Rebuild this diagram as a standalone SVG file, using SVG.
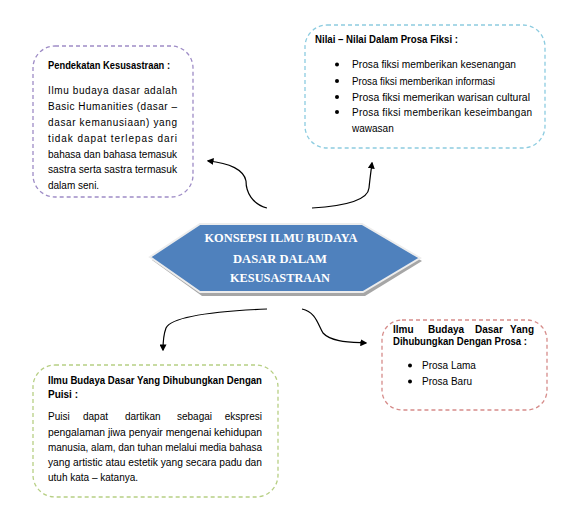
<svg xmlns="http://www.w3.org/2000/svg" width="572" height="525" viewBox="0 0 572 525">
<defs>
<style>
.box{fill:#fff;stroke-width:1.3;stroke-dasharray:4 3}
.t{font-family:"Liberation Sans",Arial,sans-serif;font-size:10px;fill:#000}
.b{font-weight:bold}
.h{font-family:"Liberation Serif","Times New Roman",serif;font-size:13px;font-weight:bold;fill:#fff;text-anchor:middle}
.c{fill:none;stroke:#000;stroke-width:1.2}
</style>
<marker id="ah" viewBox="0 0 10 10" refX="8" refY="5" markerWidth="7" markerHeight="7" orient="auto" markerUnits="userSpaceOnUse">
<path d="M0,0 L10,5 L0,10 z" fill="#000"/>
</marker>
</defs>
<rect width="572" height="525" fill="#fff"/>

<g id="connectors">
<path class="c" d="M267,208 C252,204 246,192 246,181 C244,170 230,163 208,161" marker-end="url(#ah)"/>
<path class="c" d="M312,208 C345,206 368,200 369,188 C370,178 371,171 372,163" marker-end="url(#ah)"/>
<path class="c" d="M267,309 C220,311 172,316 166,328 C163,336 163,344 163,350" marker-end="url(#ah)"/>
<path class="c" d="M302,309 C316,312 318,325 323,333 C331,342 350,342 366,343" marker-end="url(#ah)"/>
</g>

<g id="center">
<polygon points="152,260 202,227 364,227 422,261 365,296 202,296" fill="#A6A6A6"/>
<polygon points="150,257 200,224 362,224 420,258 363,292 200,292" fill="#4F81BD" stroke="#EDEDED" stroke-width="2"/>
<text class="h" x="281" y="242" textLength="153" lengthAdjust="spacingAndGlyphs">KONSEPSI ILMU BUDAYA</text>
<text class="h" x="280" y="263" textLength="94" lengthAdjust="spacingAndGlyphs">DASAR DALAM</text>
<text class="h" x="280" y="282" textLength="100" lengthAdjust="spacingAndGlyphs">KESUSASTRAAN</text>
</g>

<g id="pendekatan">
<rect class="box" x="33" y="46" width="160" height="151" rx="22" stroke="#9E8CC6"/>
<text class="t b" x="48" y="69" textLength="122" lengthAdjust="spacingAndGlyphs">Pendekatan Kesusastraan :</text>
<text class="t" x="48" y="94" textLength="129" lengthAdjust="spacing">Ilmu budaya dasar adalah</text>
<text class="t" x="48" y="110" textLength="129" lengthAdjust="spacing">Basic Humanities (dasar –</text>
<text class="t" x="48" y="126" textLength="129" lengthAdjust="spacing">dasar kemanusiaan) yang</text>
<text class="t" x="48" y="142" textLength="129" lengthAdjust="spacing">tidak dapat terlepas dari</text>
<text class="t" x="48" y="157.5" textLength="129" lengthAdjust="spacingAndGlyphs">bahasa dan bahasa temasuk</text>
<text class="t" x="48" y="173" textLength="129" lengthAdjust="spacingAndGlyphs">sastra serta sastra termasuk</text>
<text class="t" x="48" y="189">dalam seni.</text>
</g>

<g id="nilai">
<rect class="box" x="305" y="25" width="240" height="123" rx="22" stroke="#8DCCE0"/>
<text class="t b" x="315" y="43" textLength="143" lengthAdjust="spacingAndGlyphs">Nilai – Nilai Dalam Prosa Fiksi :</text>
<circle cx="337" cy="64.5" r="2"/>
<circle cx="337" cy="81" r="2"/>
<circle cx="337" cy="97" r="2"/>
<circle cx="337" cy="112" r="2"/>
<text class="t" x="352" y="68" textLength="164" lengthAdjust="spacingAndGlyphs">Prosa fiksi memberikan kesenangan</text>
<text class="t" x="352" y="84.5" textLength="143" lengthAdjust="spacingAndGlyphs">Prosa fiksi memberikan informasi</text>
<text class="t" x="352" y="100.5" textLength="178" lengthAdjust="spacingAndGlyphs">Prosa fiksi memerikan warisan cultural</text>
<text class="t" x="352" y="115.5" textLength="180" lengthAdjust="spacing">Prosa fiksi memberikan keseimbangan</text>
<text class="t" x="352" y="131.5">wawasan</text>
</g>

<g id="prosa">
<rect class="box" x="382" y="320" width="165" height="90" rx="20" stroke="#D68C8A"/>
<text class="t b" x="393" y="333">Ilmu</text>
<text class="t b" x="428" y="333">Budaya</text>
<text class="t b" x="475" y="333">Dasar</text>
<text class="t b" x="534" y="333" text-anchor="end">Yang</text>
<text class="t b" x="393" y="344.5" textLength="134" lengthAdjust="spacingAndGlyphs">Dihubungkan Dengan Prosa :</text>
<circle cx="410" cy="365.5" r="2"/>
<circle cx="410" cy="381.5" r="2"/>
<text class="t" x="422" y="369">Prosa Lama</text>
<text class="t" x="422" y="385">Prosa Baru</text>
</g>

<g id="puisi">
<rect class="box" x="33" y="365" width="245" height="132" rx="22" stroke="#B7CF84"/>
<text class="t b" x="48" y="383.5" textLength="214" lengthAdjust="spacingAndGlyphs">Ilmu Budaya Dasar Yang Dihubungkan Dengan</text>
<text class="t b" x="48" y="397.5">Puisi :</text>
<text class="t" x="48" y="420">Puisi</text>
<text class="t" x="83" y="420">dapat</text>
<text class="t" x="125" y="420">dartikan</text>
<text class="t" x="177" y="420">sebagai</text>
<text class="t" x="262" y="420" text-anchor="end">ekspresi</text>
<text class="t" x="48" y="435.5" textLength="214" lengthAdjust="spacingAndGlyphs">pengalaman jiwa penyair mengenai kehidupan</text>
<text class="t" x="48" y="451" textLength="214" lengthAdjust="spacingAndGlyphs">manusia, alam, dan tuhan melalui media bahasa</text>
<text class="t" x="48" y="466" textLength="214" lengthAdjust="spacingAndGlyphs">yang artistic atau estetik yang secara padu dan</text>
<text class="t" x="48" y="481">utuh kata – katanya.</text>
</g>
</svg>
